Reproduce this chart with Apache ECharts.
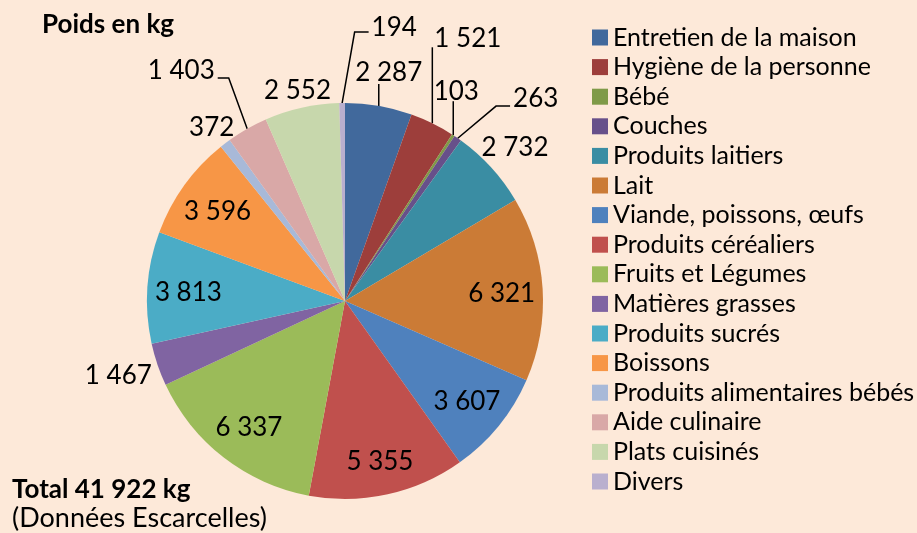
<!DOCTYPE html>
<html>
<head>
<meta charset="utf-8" />
<title>Poids en kg</title>
<script src="https://cdn.jsdelivr.net/npm/echarts@6/dist/echarts.min.js"></script>
<style>
  html, body { margin: 0; padding: 0; background: #fde9d9; }
  #main { width: 917px; height: 533px; }
</style>
</head>
<body>
<div id="main"></div>
<script type="text/javascript">

var categories = ['Entretien de la maison', 'Hygiène de la personne', 'Bébé', 'Couches',
  'Produits laitiers', 'Lait', 'Viande, poissons, œufs', 'Produits céréaliers',
  'Fruits et Légumes', 'Matières grasses', 'Produits sucrés', 'Boissons',
  'Produits alimentaires bébés', 'Aide culinaire', 'Plats cuisinés', 'Divers'];
var weights = [2287, 1521, 103, 263, 2732, 6321, 3607, 5355, 6337, 1467, 3813, 3596, 372, 1403, 2552, 194];
var colors = ['#41699c', '#9d3e3b', '#7f9a48', '#67508a', '#3a8da3', '#cb7b36',
  '#4f81bd', '#c0504d', '#9bbb59', '#8064a2', '#4bacc6', '#f79646',
  '#a8b9d8', '#d9a8a7', '#c7d7ac', '#b9afce'];

// label placement per slice: inset = inside, out = just outside, lead = leader line [angle, length]
var pins = [
  {lead: [[0, 22]], align: 'center', valign: 'bottom', dx: 10, dy: 2},
  {lead: [[0, 76]], align: 'left', valign: 'bottom', dx: 2, dy: 4},
  {lead: [[0, 34]], align: 'center', valign: 'bottom', dx: 3, dy: 3},
  {lead: [[50, 50], [90, 14]], align: 'left', valign: 'middle', dx: 3, dy: -7},
  {out: 13},
  {inset: 41},
  {inset: 41},
  {inset: 36},
  {inset: 41},
  {out: 6, dy: -4},
  {inset: 41},
  {inset: 41},
  {out: 6},
  {lead: [[-20, 54], [-90, 11]], align: 'right', valign: 'middle', dx: -3, dy: -7},
  {out: 6},
  {lead: [[10, 72], [90, 14]], align: 'left', valign: 'middle', dx: 3, dy: -5}
];

var font = 'Lato';

function fmt(v) {
  return String(v).replace(/\B(?=(\d{3})+(?!\d))/g, ' ');
}

function placeLabel(params) {
  var pin = pins[params.dataIndex];
  var pts = params.labelLinePoints;
  if (!pin || !pts) return {};
  var p0 = pts[0], p1 = pts[1];
  var vx = p1[0] - p0[0], vy = p1[1] - p0[1];
  var n = Math.sqrt(vx * vx + vy * vy) || 1;
  vx /= n; vy /= n;

  if (pin.lead) {
    var x = p0[0], y = p0[1];
    var line = [[x, y]];
    pin.lead.forEach(function (s) {
      var a = s[0] * Math.PI / 180;
      x += Math.sin(a) * s[1];
      y -= Math.cos(a) * s[1];
      line.push([x, y]);
    });
    return {x: x + pin.dx, y: y + pin.dy, align: pin.align, verticalAlign: pin.valign,
      labelLinePoints: line};
  }
  var d;
  if (pin.inset) {
    d = -pin.inset;
  } else {
    var hw = params.labelRect.width / 2, hh = params.labelRect.height / 2;
    var tx = Math.abs(vx) > 1e-6 ? hw / Math.abs(vx) : 1e9;
    var ty = Math.abs(vy) > 1e-6 ? hh / Math.abs(vy) : 1e9;
    d = pin.out + Math.min(tx, ty);
  }
  return {x: p0[0] + vx * d, y: p0[1] + vy * d + 2 + (pin.dy || 0),
    align: 'center', verticalAlign: 'middle',
    labelLinePoints: [[p0[0], p0[1]], [p0[0], p0[1]]]};
}

var myChart = echarts.init(document.getElementById('main'));

myChart.setOption({
  backgroundColor: '#fde9d9',
  animation: false,
  color: colors,
  title: [
    {
      text: 'Poids en kg', left: 42, top: 12, padding: 0,
      textStyle: {fontFamily: font, fontSize: 26, fontWeight: 'bold', color: '#000'}
    },
    {
      text: '{b|Total 41 922 k}{n|g}', left: 12, top: 477, padding: 0,
      textStyle: {
        rich: {
          b: {fontFamily: font, fontSize: 26, fontWeight: 'bold', color: '#000'},
          n: {fontFamily: font, fontSize: 26, color: '#000'}
        }
      }
    },
    {
      text: '(Données Escarcelles)', left: 12, top: 505, padding: 0,
      textStyle: {fontFamily: font, fontSize: 27, fontWeight: 'normal', color: '#000'}
    }
  ],
  legend: {
    orient: 'vertical',
    left: 592,
    top: 25,
    padding: 0,
    icon: 'rect',
    itemWidth: 16,
    itemHeight: 16,
    itemGap: 4.6,
    data: categories,
    textStyle: {fontFamily: font, fontSize: 25, lineHeight: 24, color: '#000'}
  },
  series: [{
    type: 'pie',
    center: [345, 301],
    radius: 198,
    startAngle: 90,
    clockwise: true,
    avoidLabelOverlap: false,
    data: categories.map(function (c, i) {
      return {name: c, value: weights[i]};
    }),
    itemStyle: {borderWidth: 0},
    label: {
      show: true,
      position: 'outside',
      distanceToLabelLine: 0,
      color: '#000',
      fontFamily: font,
      fontSize: 26,
      lineHeight: 26,
      formatter: function (p) { return fmt(p.value); }
    },
    labelLine: {
      show: true,
      length: 10,
      length2: 0,
      lineStyle: {color: '#000', width: 1.5}
    },
    labelLayout: placeLabel
  }]
});

</script>
</body>
</html>
